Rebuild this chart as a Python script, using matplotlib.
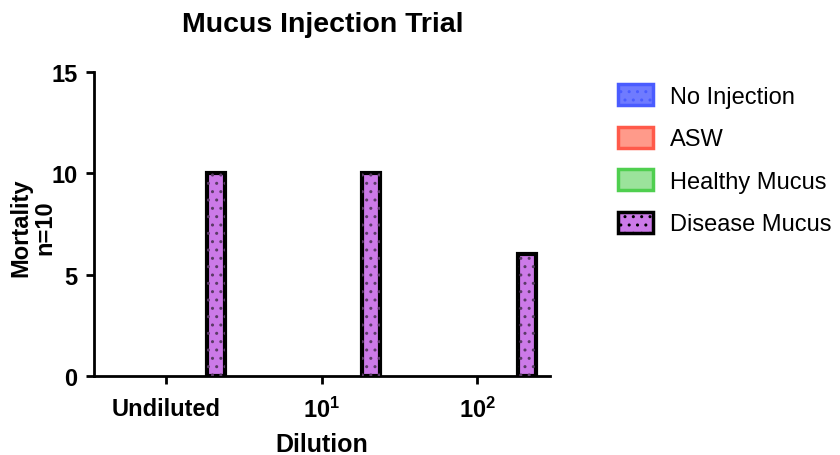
import numpy as np
import matplotlib.pyplot as plt
import matplotlib.patches as patches

plt.rcParams['font.family'] = ['Liberation Sans', 'DejaVu Sans']
plt.rcParams['hatch.linewidth'] = 1.0
plt.rcParams['mathtext.fontset'] = 'custom'
plt.rcParams['mathtext.rm'] = 'Liberation Sans'
plt.rcParams['mathtext.bf'] = 'Liberation Sans:bold'

# data
dilutions = ["Undiluted", "$\\mathbf{10^1}$", "$\\mathbf{10^2}$"]
series = ["No Injection", "ASW", "Healthy Mucus", "Disease Mucus"]
no_injection = [0, 0, 0]
asw = [0, 0, 0]
healthy_mucus = [0, 0, 0]
disease_mucus = [10, 10, 6]

fills = ['#6f7bff', '#ff9a8a', '#9be39b', '#cc7ae8']
edges = ['#4a5cff', '#ff5a4a', '#4fcf4f', 'black']
hatches = ['..', None, None, '..']

fig = plt.figure(figsize=(8.4, 4.56), dpi=100)
ax = fig.add_axes([0.112, 0.173, 0.543, 0.667])

x = np.arange(len(dilutions))
offsets = [-0.32, -0.107, 0.107, 0.32]
width = 0.115
values = [no_injection, asw, healthy_mucus, disease_mucus]
for vals, off, fc, ec, h in zip(values, offsets, fills, edges, hatches):
    heights = np.array(vals, dtype=float)
    mask = heights > 0
    if not mask.any():
        continue
    ax.bar(x[mask] + off, heights[mask], width, color=fc, edgecolor=ec, linewidth=3, zorder=2)
    if h:
        ax.bar(x[mask] + off, heights[mask], width, color='none', edgecolor='#5a3a66',
               linewidth=0, hatch=h, zorder=3)

ax.set_xlim(-0.463, 2.47)
ax.set_ylim(0, 15)
ax.set_yticks([0, 5, 10, 15])
ax.set_xticks(x)
ax.set_xticklabels(dilutions)
for s in ['top', 'right']:
    ax.spines[s].set_visible(False)
for s in ['left', 'bottom']:
    ax.spines[s].set_linewidth(2)
ax.tick_params(axis='both', width=2, length=6, labelsize=17)
ax.tick_params(axis='y', pad=6)
ax.tick_params(axis='x', pad=9)
for lbl in ax.get_xticklabels() + ax.get_yticklabels():
    lbl.set_fontweight('bold')

ax.set_xlabel("Dilution", fontsize=18, fontweight='bold', va='center')
ax.xaxis.set_label_coords(0.5, -0.224)
ax.set_ylabel("Mortality\nn=10", fontsize=17, fontweight='bold', linespacing=1.05,
              va='center', ha='center')
ax.yaxis.set_label_coords(-0.134, 0.49)
fig.text(0.384, 0.945, "Mucus Injection Trial", fontsize=20.5, fontweight='bold', ha='center', va='center')

handles = []
for fc, ec, h in zip(fills, edges, hatches):
    handles.append(patches.Patch(facecolor=fc, edgecolor=ec, linewidth=2.5, hatch=h))
leg = fig.legend(handles, series, loc='upper left', bbox_to_anchor=(0.711, 0.86),
                 frameon=False, fontsize=17, handlelength=1.45, handleheight=1.0,
                 labelspacing=0.8, handletextpad=0.75)

fig.savefig("out.png", dpi=100)
